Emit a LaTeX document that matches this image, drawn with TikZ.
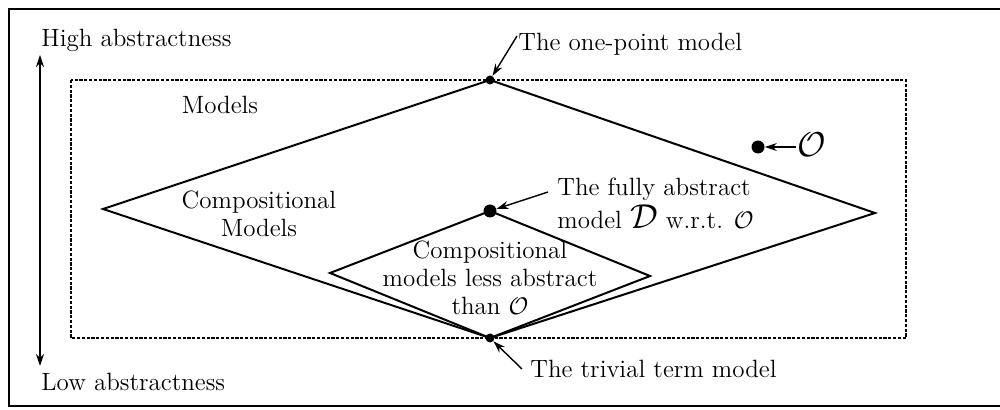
\documentclass[tikz,border=0pt]{standalone}
\usepackage{amsmath}
\usetikzlibrary{arrows.meta}
\begin{document}
\begin{tikzpicture}[x=0.5pt,y=-0.5pt,
  every node/.style={font=\fontsize{12.5}{14}\selectfont, inner sep=0pt},
  edge/.style={line width=1pt},
  frame/.style={line width=0.9pt},
  dotted box/.style={line width=0.7pt, dash pattern=on 1.6pt off 0.8pt},
  arr/.style={line width=0.7pt, -{Stealth[length=6pt,width=4pt]}},
  dbl/.style={line width=0.7pt, {Stealth[length=6pt,width=4pt]}-{Stealth[length=6pt,width=4pt]}},
  smalldot/.style={circle, fill=black, minimum size=4.5pt, inner sep=0pt},
  bigdot/.style={circle, fill=black, minimum size=6.5pt, inner sep=0pt}]
\useasboundingbox (0,0) rectangle (1000,410);
% outer frame
\draw[frame] (1000,9) -- (9,9) -- (9,406) -- (1000,406);
% vertical abstractness arrow
\coordinate (hi) at (40,55);
\coordinate (lo) at (40,366);
\draw[dbl] (lo) -- (hi);
\node[anchor=base west] (hitext) at (41,47) {High abstractness};
\node[anchor=base west] (lotext) at (41,391) {Low abstractness};
% dotted box
\draw[dotted box] (71,80) rectangle (906,338);
% diamond vertices
\coordinate (T) at (490,80);
\coordinate (L) at (103,209);
\coordinate (R) at (875,213);
\coordinate (B) at (490,338);
\coordinate (IT) at (490,211);
\coordinate (IL) at (330,273);
\coordinate (IR) at (650,276);
\draw[edge, line join=miter] (T) -- (R) -- (B) -- (L) -- cycle;
\draw[edge, line join=miter] (IT) -- (IR) -- (B) -- (IL) -- cycle;
% dots
\node[smalldot] (onept) at (T) {};
\node[smalldot] (trivial) at (B) {};
\node[bigdot] (fa) at (IT) {};
\node[bigdot] (odot) at (758,147) {};
% labels
\node (models) at (220,105) {Models};
\node[align=center] (comp) at (259,214) {Compositional\\Models};
\node[align=center] (inner) at (490,278) {Compositional\\models less abstract\\than $\mathcal{O}$};
\node[anchor=base west] (optext) at (518,51) {The one-point model};
\node[anchor=north west, align=left, font=\fontsize{12.5}{16.5}\selectfont] (fatext) at (557,178)
  {The fully abstract\\model {\LARGE$\mathcal{D}$} w.r.t. $\mathcal{O}$};
\node[anchor=base west] (triv) at (530,378) {The trivial term model};
\node (otext) at (812,145) {\LARGE$\mathcal{O}$};
% pointer arrows
\coordinate (opfrom) at (517,36);
\coordinate (fafrom) at (548,192);
\coordinate (ofrom) at (796,147);
\coordinate (trfrom) at (522,369);
\draw[arr] (opfrom) -- (onept);
\draw[arr] (fafrom) -- (fa);
\draw[arr] (ofrom) -- (odot);
\draw[arr] (trfrom) -- (trivial);
\end{tikzpicture}
\end{document}
